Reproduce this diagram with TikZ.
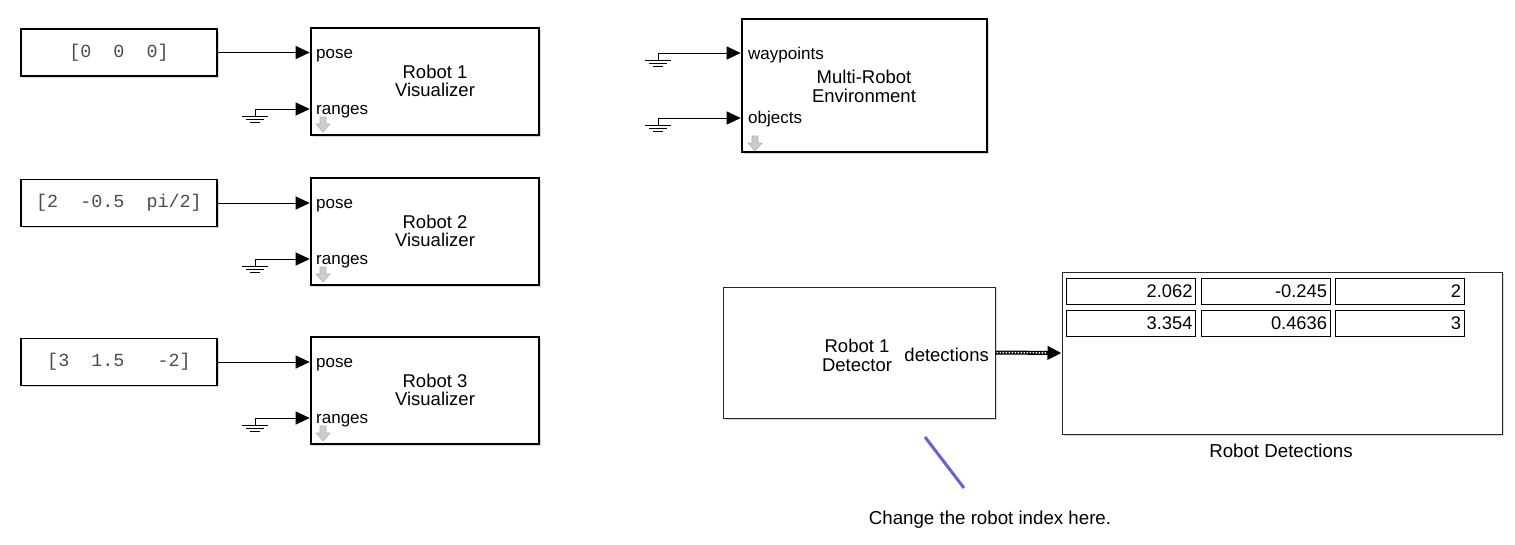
\documentclass[tikz,border=0pt]{standalone}
\usepackage{fontspec}
\setmainfont{Liberation Sans}
\setmonofont{Liberation Mono}
\usetikzlibrary{arrows.meta,shadows,calc}
\definecolor{annot}{RGB}{98,98,222}
\begin{document}
\begin{tikzpicture}[x=1pt,y=-1pt,
  shd/.style={drop shadow={shadow xshift=1.5pt,shadow yshift=-1.5pt,fill=black!30}},
  visblk/.style={draw,fill=white,line width=2.6pt,minimum width=228pt,minimum height=107pt,inner sep=0pt,shd},
  envblk/.style={draw,fill=white,line width=2.6pt,minimum width=245pt,minimum height=133pt,inner sep=0pt,shd},
  cstblk/.style={draw,fill=white,line width=1.3pt,minimum width=196pt,minimum height=47pt,inner sep=0pt,shd,font=\fontsize{18.4}{20}\ttfamily\selectfont,text=black!70},
  thinblk/.style={draw=black!85,fill=white,line width=1pt,inner sep=0pt,shd},
  ttl/.style={align=center,font=\fontsize{18.5}{18.5}\selectfont,inner sep=0pt},
  portlbl/.style={font=\fontsize{17}{18}\selectfont,inner sep=0pt,anchor=base west},
  sig/.style={line width=1pt,-{Triangle[length=14pt,width=13pt]}},
  cell/.style={draw,line width=0.9pt,text width=123pt,align=right,inner sep=3pt,minimum height=26pt,font=\fontsize{18.3}{20}\selectfont},
  lbl/.style={font=\fontsize{18.7}{20}\selectfont,inner sep=0pt},
  gnd/.pic={\draw[line width=1pt] (0,0) -- (0,7) (-13,7) -- (13,7) (-9,10) -- (9,10) (-5,13) -- (5,13);},
  dnarrow/.pic={\filldraw[fill=black!20,draw=black!30,line width=0.6pt] (-3,0) -- (3,0) -- (3,7) -- (7,7) -- (0,15) -- (-7,7) -- (-3,7) -- cycle;}
]
\useasboundingbox[fill=white] (0,0) rectangle (1515,544);

% constant blocks
\node[cstblk] (c1) at (119,52.5) {[0\ \ 0\ \ 0]};
\node[cstblk] (c2) at (119,203) {[2\ \ -0.5\ \ pi/2]};
\node[cstblk] (c3) at (119,362) {[3\ \ 1.5\ \ \ -2]};

% visualizer blocks
\node[visblk] (v1) at (425,81.5) {};
\node[visblk] (v2) at (425,231.5) {};
\node[visblk] (v3) at (425,390.5) {};
\node[ttl] (v1t) at (435,81) {Robot 1\\Visualizer};
\node[ttl] (v2t) at (435,231) {Robot 2\\Visualizer};
\node[ttl] (v3t) at (435,390) {Robot 3\\Visualizer};
\node[portlbl] (v1p) at (316,58.5) {pose};
\node[portlbl] (v1r) at (316,114.5) {ranges};
\node[portlbl] (v2p) at (316,208.5) {pose};
\node[portlbl] (v2r) at (316,264.5) {ranges};
\node[portlbl] (v3p) at (316,367.5) {pose};
\node[portlbl] (v3r) at (316,423.5) {ranges};
\pic at (323,117) {dnarrow};
\pic at (323,267) {dnarrow};
\pic at (323,426) {dnarrow};

% pose signals
\draw[sig] (c1.east) -- (v1.west |- c1.east);
\draw[sig] (c2.east) -- (v2.west |- c2.east);
\draw[sig] (c3.east) -- (v3.west |- c3.east);

% grounds for ranges
\coordinate (g1) at (255,109);
\coordinate (g2) at (255,259);
\coordinate (g3) at (255,418);
\pic at (g1) {gnd};
\pic at (g2) {gnd};
\pic at (g3) {gnd};
\draw[sig] (g1) -- (v1.west |- g1);
\draw[sig] (g2) -- (v2.west |- g2);
\draw[sig] (g3) -- (v3.west |- g3);

% environment block
\node[envblk] (env) at (864.5,85.5) {};
\node[ttl] (envt) at (864,86.5) {Multi-Robot\\Environment};
\node[portlbl] (envw) at (748,59.5) {waypoints};
\node[portlbl] (envo) at (748,123.5) {objects};
\pic at (755,136) {dnarrow};
\coordinate (g4) at (658,53);
\coordinate (g5) at (658,118);
\pic at (g4) {gnd};
\pic at (g5) {gnd};
\draw[sig] (g4) -- (env.west |- g4);
\draw[sig] (g5) -- (env.west |- g5);

% detector
\node[thinblk,minimum width=272pt,minimum height=131pt] (det) at (859,352.5) {};
\node[ttl] (dett) at (857,355.5) {Robot 1\\Detector};
\node[lbl,font=\fontsize{18.5}{20}\selectfont,anchor=base east] (detp) at (989,361) {detections};

% display
\node[thinblk,minimum width=440pt,minimum height=162pt] (disp) at (1282,353) {};
\node[cell] (a11) at (1131,291) {2.062};
\node[cell] (a12) at (1265.5,291) {-0.245};
\node[cell] (a13) at (1399.5,291) {2};
\node[cell] (a21) at (1131,323) {3.354};
\node[cell] (a22) at (1265.5,323) {0.4636};
\node[cell] (a23) at (1399.5,323) {3};
\node[lbl] (displbl) at (1281,451) {Robot Detections};

% bus signal
\draw[line width=4pt,-{Triangle[length=14pt,width=13pt]}] (det.east) -- (disp.west);
\draw[white,line width=1.4pt,dash pattern=on 1.5pt off 1.5pt,shorten >=15pt,shorten <=1pt] (det.east) -- (disp.west);

% annotation
\node[lbl] (note) at (990,520) {Change the robot index here.};
\coordinate (n1) at (964,488);
\coordinate (n2) at (925,437);
\draw[annot,line width=3pt] (n1) -- (n2);
\end{tikzpicture}
\end{document}
